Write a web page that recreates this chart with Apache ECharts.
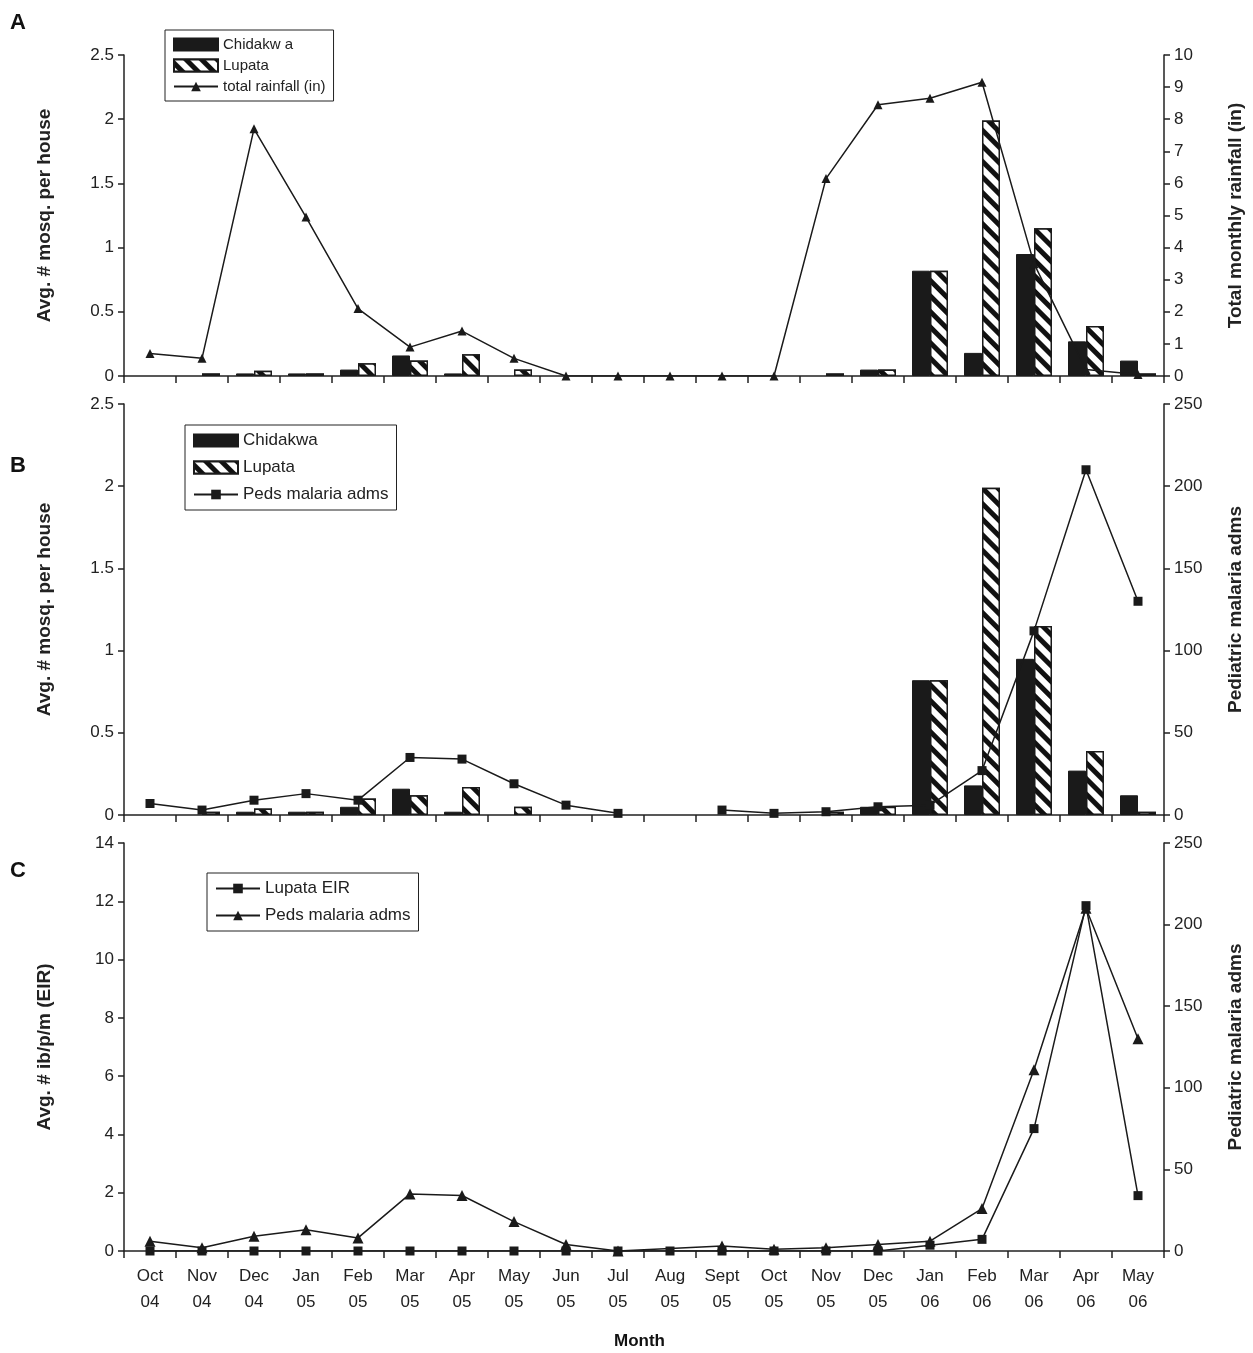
<!DOCTYPE html>
<html><head><meta charset="utf-8">
<script src="https://cdn.jsdelivr.net/npm/echarts@6/dist/echarts.min.js"></script>
<style>html,body{margin:0;background:#fff}#c{width:1253px;height:1353px}</style>
</head><body><div id="c"></div>
<script>
const months = ['Oct\n04','Nov\n04','Dec\n04','Jan\n05','Feb\n05','Mar\n05','Apr\n05','May\n05','Jun\n05','Jul\n05','Aug\n05','Sept\n05','Oct\n05','Nov\n05','Dec\n05','Jan\n06','Feb\n06','Mar\n06','Apr\n06','May\n06'];
const chidakwa = [0,0,0.02,0.02,0.05,0.16,0.02,0,0,0,0,0,0,0,0.05,0.82,0.18,0.95,0.27,0.12];
const lupata   = [0,0.02,0.04,0.02,0.10,0.12,0.17,0.05,0,0,0,0,0,0.02,0.05,0.82,1.99,1.15,0.39,0.02];
const rainfall = [0.7,0.55,7.7,4.95,2.1,0.9,1.4,0.55,0,0,0,0,0,6.15,8.45,8.65,9.15,3.5,0.2,0.05];
const pedsB = [7,3,9,13,9,35,34,19,6,1,null,3,1,2,5,6,27,112,210,130];
const pedsC = [6,2,9,13,8,35,34,18,4,0,null,3,1,2,4,6,26,111,210,130];
const eir = [0,0,0,0,0,0,0,0,0,0,0,0,0,0,0,0.2,0.4,4.2,11.85,1.9];

const F = 'Arial, "Liberation Sans", sans-serif';
const grids = [
  {left:124,right:88,top:55,height:321},
  {left:124,right:88,top:404,height:411},
  {left:124,right:88,top:843,height:408}
];
const axLine = {show:true,lineStyle:{color:'#222',width:1.5}};
const tick = {show:true,length:6,lineStyle:{color:'#222',width:1.5}};
function xAx(i,showLabel){
  return {type:'category',gridIndex:i,data:months,boundaryGap:true,axisLine:axLine,
    axisTick:{show:true,length:7,inside:false,lineStyle:{color:'#222',width:1.5},interval:0},
    axisLabel:{show:showLabel,interval:0,color:'#222',fontSize:17,fontFamily:F,lineHeight:26,margin:12}};
}
function yAx(i,pos,max,intv,name){
  return {type:'value',gridIndex:i,position:pos,min:0,max:max,interval:intv,name:name,
    nameLocation:'middle',nameGap:pos==='left'?70:62,nameRotate:90,
    nameTextStyle:{fontSize:19,fontWeight:'bold',color:'#222',fontFamily:F},
    axisLine:axLine,axisTick:tick,splitLine:{show:false},
    axisLabel:{color:'#222',fontSize:17,fontFamily:F,margin:10}};
}
const nz = a => a.map(v => v === 0 ? null : v);
const decal = {color:'#111',backgroundColor:'#fff',dashArrayX:[1,0],dashArrayY:[5,6],rotation:Math.PI/4,symbolSize:1};
const blackBar = {color:'#1a1a1a',borderColor:'#1a1a1a',borderWidth:1};
const hatchBar = {color:'#fff',borderColor:'#1a1a1a',borderWidth:1.5,decal:decal};
const lineStyle = {color:'#1a1a1a',width:1.5};
const lg = (left,top,gap,fs,data)=>({left:left,top:top,orient:'vertical',itemGap:gap,itemWidth:44,itemHeight:12,
  padding:[7,8,7,8],borderColor:'#222',borderWidth:1,textStyle:{fontSize:fs,fontFamily:F,color:'#222'},
  formatter:n=>n.replace(' A','').trim(),data:data});
const opt = {
  animation:false,
  grid:grids,
  xAxis:[xAx(0,false),xAx(1,false),xAx(2,true)],
  yAxis:[
    yAx(0,'left',2.5,0.5,'Avg. # mosq. per house'),
    yAx(0,'right',10,1,'Total monthly rainfall (in)'),
    yAx(1,'left',2.5,0.5,'Avg. # mosq. per house'),
    yAx(1,'right',250,50,'Pediatric malaria adms'),
    yAx(2,'left',14,2,'Avg. # ib/p/m (EIR)'),
    yAx(2,'right',250,50,'Pediatric malaria adms')
  ],
  legend:[
    lg(165,30,6,15,[{name:'Chidakw a',icon:'rect'},{name:'Lupata A',icon:'rect'},{name:'total rainfall (in)'}]),
    lg(185,425,10,17,[{name:'Chidakwa',icon:'rect'},{name:'Lupata',icon:'rect'},{name:'Peds malaria adms'}]),
    lg(207,873,10,17,['Lupata EIR','Peds malaria adms '])
  ],
  series:[
    {name:'Chidakw a',type:'bar',xAxisIndex:0,yAxisIndex:0,data:nz(chidakwa),barWidth:18,barGap:'0%',itemStyle:blackBar},
    {name:'Lupata A',type:'bar',xAxisIndex:0,yAxisIndex:0,data:nz(lupata),barWidth:18,barGap:'0%',itemStyle:hatchBar},
    {name:'total rainfall (in)',type:'line',xAxisIndex:0,yAxisIndex:1,data:rainfall,symbol:'triangle',symbolSize:9,
      lineStyle:lineStyle,itemStyle:{color:'#1a1a1a'}},
    {name:'Chidakwa',type:'bar',xAxisIndex:1,yAxisIndex:2,data:nz(chidakwa),barWidth:18,barGap:'0%',itemStyle:blackBar},
    {name:'Lupata',type:'bar',xAxisIndex:1,yAxisIndex:2,data:nz(lupata),barWidth:18,barGap:'0%',itemStyle:hatchBar},
    {name:'Peds malaria adms',type:'line',xAxisIndex:1,yAxisIndex:3,data:pedsB,symbol:'rect',symbolSize:9,
      connectNulls:false,lineStyle:lineStyle,itemStyle:{color:'#1a1a1a'}},
    {name:'Lupata EIR',type:'line',xAxisIndex:2,yAxisIndex:4,data:eir,symbol:'rect',symbolSize:9,
      lineStyle:lineStyle,itemStyle:{color:'#1a1a1a'}},
    {name:'Peds malaria adms ',type:'line',xAxisIndex:2,yAxisIndex:5,data:pedsC,symbol:'triangle',symbolSize:11,
      connectNulls:true,lineStyle:lineStyle,itemStyle:{color:'#1a1a1a'}}
  ],
  graphic:[
    {type:'text',left:10,top:12,style:{text:'A',font:'bold 22px '+F,fill:'#111'}},
    {type:'text',left:10,top:455,style:{text:'B',font:'bold 22px '+F,fill:'#111'}},
    {type:'text',left:10,top:860,style:{text:'C',font:'bold 22px '+F,fill:'#111'}},
    {type:'text',left:614,top:1333,style:{text:'Month',font:'bold 17px '+F,fill:'#111'}}
  ]
};
const ch = echarts.init(document.getElementById('c'));
ch.setOption(opt);
</script></body></html>
